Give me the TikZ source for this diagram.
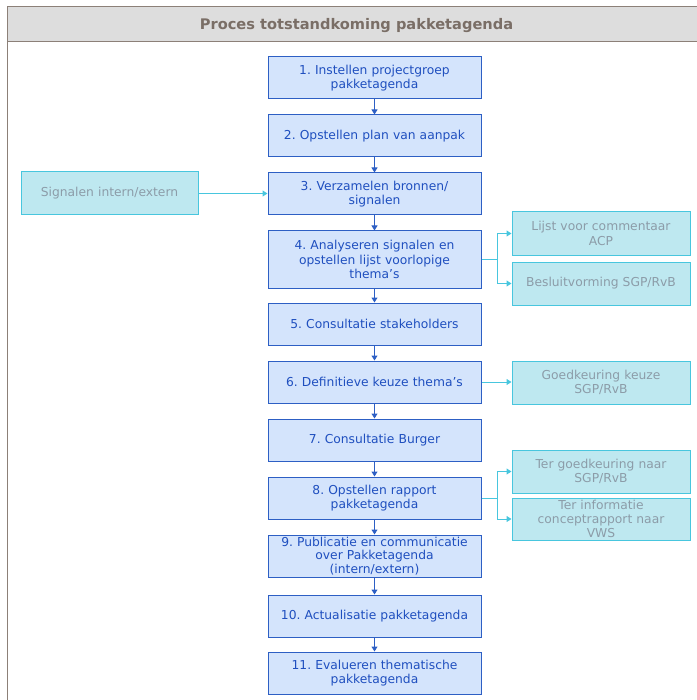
\documentclass[tikz,border=0pt]{standalone}
\usepackage{fontspec}
\setmainfont{DejaVu Sans}
\usetikzlibrary{arrows.meta}
\definecolor{mainfill}{HTML}{D4E4FC}
\definecolor{maindraw}{HTML}{2D5FC4}
\definecolor{maintext}{HTML}{1F4FBF}
\definecolor{sidefill}{HTML}{BEE8F0}
\definecolor{sidedraw}{HTML}{48C6DE}
\definecolor{sidetext}{HTML}{8C9CA8}
\definecolor{titlefill}{HTML}{DDDDDD}
\definecolor{titledraw}{HTML}{8C8078}
\definecolor{titletext}{HTML}{7A6E66}
\tikzset{
  mainbox/.style={draw=maindraw, fill=mainfill, line width=1pt, minimum width=213pt, text width=209pt, align=center, text=maintext, font=\fontsize{12.3}{14.3}\selectfont\frenchspacing, inner sep=0pt},
  sidebox/.style={draw=sidedraw, fill=sidefill, line width=1pt, minimum width=178pt, text width=174pt, align=center, text=sidetext, font=\fontsize{12.3}{14.3}\selectfont\frenchspacing, inner sep=0pt},
  tight/.style={font=\fontsize{12.3}{13.6}\selectfont\frenchspacing},
  flow/.style={maindraw, line width=1pt, -{Triangle[length=5pt,width=6pt]}},
  sideflow/.style={sidedraw, line width=1pt, -{Triangle[length=5pt,width=6pt]}},
}
\begin{document}
\begin{tikzpicture}[x=1pt,y=-1pt]
\useasboundingbox (0,0) rectangle (696,700);
% frame and title
\fill[titlefill] (7,7) rectangle (700,42);
\draw[titledraw, line width=1pt] (700,7) -- (7,7) -- (7,700);
\draw[titledraw, line width=1pt] (7,42) -- (700,42);
\node[text=titletext, font=\bfseries\fontsize{14.6}{16}\selectfont] (title) at (356.5,25.5) {Proces totstandkoming pakketagenda};
% main boxes
\node[mainbox, minimum height=42pt] (b1) at (374.5,78) {1. Instellen projectgroep\\pakketagenda};
\node[mainbox, minimum height=42pt] (b2) at (374.5,136) {2. Opstellen plan van aanpak};
\node[mainbox, minimum height=42pt] (b3) at (374.5,194) {3. Verzamelen bronnen/\\signalen};
\node[mainbox, minimum height=57pt] (b4) at (374.5,259.5) {4. Analyseren signalen en\\opstellen lijst voorlopige\\thema's};
\node[mainbox, minimum height=42pt] (b5) at (374.5,324) {5. Consultatie stakeholders};
\node[mainbox, minimum height=42pt] (b6) at (374.5,382) {6. Definitieve keuze thema's};
\node[mainbox, minimum height=42pt] (b7) at (374.5,440) {7. Consultatie Burger};
\node[mainbox, minimum height=42pt] (b8) at (374.5,498) {8. Opstellen rapport\\pakketagenda};
\node[mainbox, tight, minimum height=42pt] (b9) at (374.5,556) {9. Publicatie en communicatie\\over Pakketagenda\\(intern/extern)};
\node[mainbox, minimum height=42pt] (b10) at (374.5,616) {10. Actualisatie pakketagenda};
\node[mainbox, minimum height=42pt] (b11) at (374.5,673) {11. Evalueren thematische\\pakketagenda};
% side boxes
\node[sidebox, minimum height=43pt, minimum width=177pt, text width=173pt] (s0) at (109.5,193.5) {Signalen intern/extern};
\node[sidebox, minimum height=43pt] (s1) at (601,233.5) {Lijst voor commentaar\\ACP};
\node[sidebox, minimum height=43pt] (s2) at (601,283.5) {Besluitvorming SGP/RvB};
\node[sidebox, minimum height=43pt] (s3) at (601,382.5) {Goedkeuring keuze\\SGP/RvB};
\node[sidebox, minimum height=43pt] (s4) at (601,471.5) {Ter goedkeuring naar\\SGP/RvB};
\node[sidebox, tight, minimum height=42pt] (s5) at (601,519) {Ter informatie\\conceptrapport naar\\VWS};
% main flow
\foreach \a/\b in {b1/b2,b2/b3,b3/b4,b4/b5,b5/b6,b6/b7,b7/b8,b8/b9,b9/b10,b10/b11}
  \draw[flow] (\a.south) -- (\b.north);
% side flows
\draw[sideflow] (s0.east) -- (b3.west |- s0.east);
\coordinate (j4) at (497,259.5);
\draw[sidedraw, line width=1pt] (b4.east) -- (j4);
\draw[sideflow] (j4) |- (s1.west);
\draw[sideflow] (j4) |- (s2.west);
\draw[sideflow] (b6.east) -- (s3.west |- b6.east);
\coordinate (j8) at (497,498);
\draw[sidedraw, line width=1pt] (b8.east) -- (j8);
\draw[sideflow] (j8) |- (s4.west);
\draw[sideflow] (j8) |- (s5.west);
\end{tikzpicture}
\end{document}
